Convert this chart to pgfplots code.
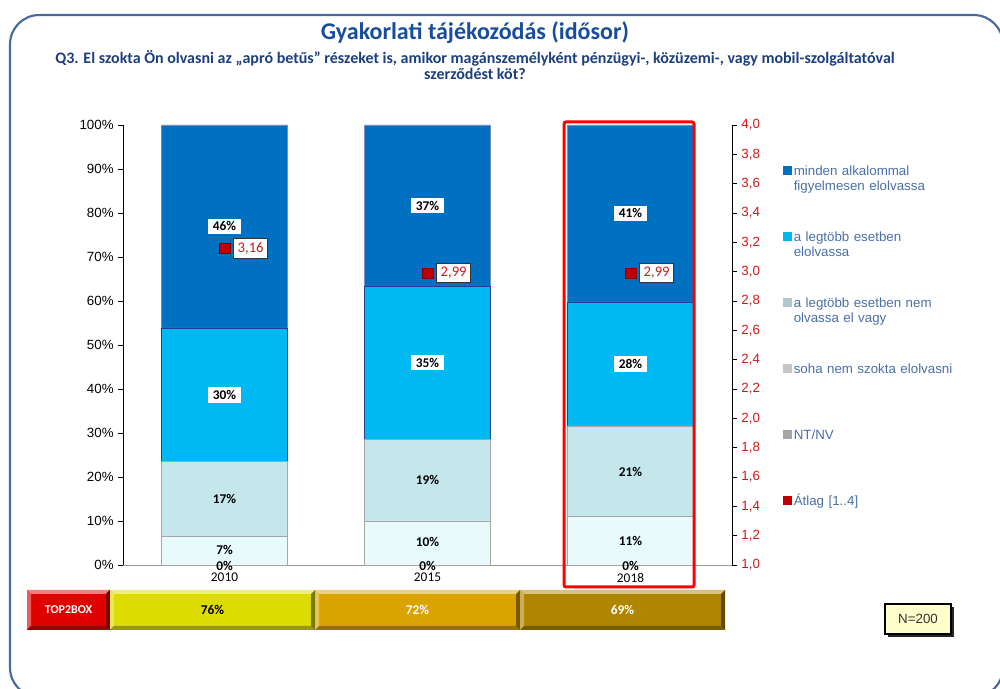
\documentclass[border=0pt]{standalone}
\usepackage{pgfplots}
\pgfplotsset{compat=1.18}
\usepackage{fontspec}
\setmainfont{Carlito}
\newfontfamily\arial{Liberation Sans}
\definecolor{minden}{HTML}{0070C0}
\definecolor{legt}{HTML}{00B8F2}
\definecolor{nem}{HTML}{C5E7EC}
\definecolor{soha}{HTML}{E8FAFC}
\definecolor{ntnv}{HTML}{A6A6A6}
\definecolor{navy}{HTML}{23408E}
\definecolor{meanred}{HTML}{C00000}
\definecolor{ticred}{HTML}{D01818}
\definecolor{legblue}{HTML}{4A6FA5}
\definecolor{titleblue}{HTML}{1A4C9C}
\definecolor{subblue}{HTML}{1C3F7C}
\definecolor{framecol}{HTML}{4A6A9E}
\definecolor{cyel}{HTML}{DCDC00}
\definecolor{corg}{HTML}{DAA300}
\definecolor{cgold}{HTML}{B08500}
\definecolor{cred}{HTML}{E00000}
\definecolor{ncream}{HTML}{FFFFCC}

\newcommand{\bevbox}[5]{%
  \fill[#5] (#1,#2) rectangle (#3,#4);
  \fill[#5!50!white] (#1,#2) -- (#3,#2) -- (#3-4,#2+4) -- (#1+4,#2+4) -- cycle;
  \fill[#5!65!white] (#1,#2) -- (#1+4,#2+4) -- (#1+4,#4-4) -- (#1,#4) -- cycle;
  \fill[#5!70!black] (#1,#4) -- (#3,#4) -- (#3-4,#4-4) -- (#1+4,#4-4) -- cycle;
  \fill[#5!55!black] (#3,#2) -- (#3,#4) -- (#3-4,#4-4) -- (#3-4,#2+4) -- cycle;
}

\pgfplotsset{
  common/.style={
    at={(92.25pt,93pt)}, anchor=south west,
    scale only axis, width=456.75pt, height=330pt,
    xmin=-0.5, xmax=2.5, clip=false,
  }
}

\begin{document}
\begin{tikzpicture}
\path[use as bounding box] (0,0) rectangle (750pt,516.75pt);

% ---------- stacked bars ----------
\begin{axis}[
  common,
  ybar stacked, bar width=94.5pt,
  ymin=0, ymax=100,
  axis x line*=bottom, axis y line*=left,
  x axis line style={draw=gray!80, -},
  y axis line style={-},
  xtick={0,1,2}, xticklabels={2010,2015,2018},
  x tick style={draw=none},
  xticklabel style={font=\fontsize{10}{12}\selectfont, yshift=1pt},
  ytick={0,10,...,100},
  yticklabel={\pgfmathprintnumber{\tick}\%},
  yticklabel style={font=\arial\fontsize{10}{12}\selectfont},
  /pgf/number format/assume math mode=true,
  tick align=outside, major tick length=3.5pt,
  y tick style={black, line width=0.6pt},
]
\addplot[fill=ntnv, draw=gray] coordinates {(0,0) (1,0) (2,0)};
\addplot[fill=soha, draw=gray!70] coordinates {(0,6.6) (1,10.0) (2,11.0)};
\addplot[fill=nem, draw=gray!70] coordinates {(0,16.9) (1,18.6) (2,20.6)};
\addplot[fill=legt, draw=navy] coordinates {(0,30.4) (1,34.8) (2,28.2)};
\addplot[fill=minden, draw=navy!60] coordinates {(0,46.1) (1,36.6) (2,40.2)};
\end{axis}

% ---------- value labels ----------
\begin{axis}[common, ymin=0, ymax=100, hide axis]
\addplot[draw=none, nodes near coords, point meta=explicit symbolic,
  nodes near coords style={anchor=center, fill=white, font=\bfseries\fontsize{10}{12}\selectfont, inner xsep=3.5pt, inner ysep=2.4pt}]
  coordinates {(0,76.95)[46\%] (1,81.7)[37\%] (2,79.9)[41\%] (0,38.7)[30\%] (1,46.0)[35\%] (2,45.7)[28\%]};
\addplot[draw=none, nodes near coords, point meta=explicit symbolic,
  nodes near coords style={anchor=center, font=\bfseries\fontsize{10}{12}\selectfont, inner sep=1pt}]
  coordinates {(0,15.05)[17\%] (1,19.3)[19\%] (2,21.1)[21\%] (0,3.5)[7\%] (1,5.3)[10\%] (2,5.5)[11\%] (0,-0.2)[0\%] (1,-0.2)[0\%] (2,-0.2)[0\%]};
\end{axis}

% ---------- mean on right axis ----------
\begin{axis}[
  common,
  ymin=1, ymax=4,
  axis x line=none, axis y line*=right,
  y axis line style={-},
  ytick={1,1.2,1.4,1.6,1.8,2,2.2,2.4,2.6,2.8,3,3.2,3.4,3.6,3.8,4},
  yticklabel style={font=\arial\fontsize{10}{12}\selectfont, text=ticred,
    /pgf/number format/.cd, fixed, fixed zerofill, precision=1, use comma, assume math mode=true},
  tick align=outside, major tick length=3.5pt,
  y tick style={black, line width=0.6pt},
  legend style={at={(rel axis cs:1.0837,0.972)}, anchor=north west, draw=none, fill=none,
    font=\arial\fontsize{10}{11.5}\selectfont, text=legblue, row sep=0pt, inner sep=0pt,
    column sep=0pt,
    nodes={text width=124pt, align=left, inner xsep=1.5pt, inner ysep=0pt, text height=28.25pt, text depth=21.25pt}},
  legend cell align=left,
]
\addlegendimage{legend image code/.code={\fill[minden] (0pt,-2.9pt) rectangle (6pt,3.1pt);}}
\addlegendentry{minden alkalommal\\figyelmesen elolvassa}
\addlegendimage{legend image code/.code={\fill[legt] (0pt,-2.9pt) rectangle (6pt,3.1pt);}}
\addlegendentry{a legtöbb esetben\\elolvassa}
\addlegendimage{legend image code/.code={\fill[nem!70!gray] (0pt,-2.9pt) rectangle (6pt,3.1pt);}}
\addlegendentry{a legtöbb esetben nem\\olvassa el vagy}
\addlegendimage{legend image code/.code={\fill[gray!45] (0pt,-2.9pt) rectangle (6pt,3.1pt);}}
\addlegendentry{soha nem szokta elolvasni}
\addlegendimage{legend image code/.code={\fill[ntnv] (0pt,-2.9pt) rectangle (6pt,3.1pt);}}
\addlegendentry{NT/NV}
\addplot[only marks, mark=square*, mark size=4pt, color=meanred, mark options={draw=meanred!70!black},
  nodes near coords={\pgfmathprintnumber[fixed,fixed zerofill,precision=2,use comma,assume math mode=true]{\pgfplotspointmeta}},
  nodes near coords style={anchor=west, xshift=6.5pt, draw=black!80, fill=white, text=ticred,
    font=\fontsize{11}{12}\selectfont, inner xsep=3pt, inner ysep=3pt, line width=0.8pt},
  legend image code/.code={\fill[meanred] (0pt,-2.9pt) rectangle (6pt,3.1pt);}]
  coordinates {(0,3.16) (1,2.99) (2,2.99)};
\addlegendentry{Átlag [1..4]}
\end{axis}

% ---------- decorations in pixel units ----------
\begin{scope}[x=0.75pt,y=-0.75pt,shift={(0pt,516.75pt)}]
  \draw[framecol, line width=1.6pt, rounded corners=22pt] (10,15) rectangle (1003,697);
  \node[font=\bfseries\fontsize{18}{21}\selectfont, text=titleblue] at (475,33) {Gyakorlati tájékozódás (idősor)};
  \node[font=\bfseries\fontsize{12}{12}\selectfont, text=subblue, align=center] at (475,65)
    {Q3. El szokta Ön olvasni az „apró betűs” részeket is, amikor magánszemélyként pénzügyi-, közüzemi-, vagy mobil-szolgáltatóval\\ szerződést köt?};
  \draw[red, line width=2.25pt, rounded corners=1.5pt] (564,122) rectangle (694,587);
  \bevbox{27}{590}{110}{630}{cred}
  \bevbox{110}{590}{315}{630}{cyel}
  \bevbox{315}{590}{520}{630}{corg}
  \bevbox{520}{590}{725}{630}{cgold}
  \node[font=\bfseries\fontsize{9}{11}\selectfont, text=white] at (68.5,610) {TOP2BOX};
  \node[font=\bfseries\fontsize{10}{12}\selectfont, text=black] at (212.5,610) {76\%};
  \node[font=\bfseries\fontsize{10}{12}\selectfont, text=white] at (417.5,610) {72\%};
  \node[font=\bfseries\fontsize{10}{12}\selectfont, text=white] at (622.5,610) {69\%};
  \fill[black!85] (888,607) rectangle (954,637);
  \filldraw[fill=ncream, draw=black, line width=0.8pt] (885,604) rectangle (951,634);
  \node[font=\arial\fontsize{10}{12}\selectfont, text=black!80] at (918,619) {N=200};
\end{scope}
\end{tikzpicture}
\end{document}
